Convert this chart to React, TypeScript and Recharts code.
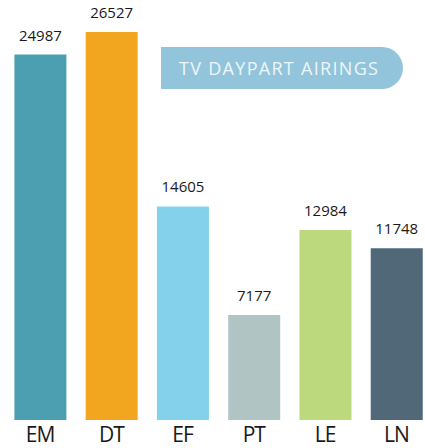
import { BarChart, Bar, XAxis, YAxis, Cell, LabelList } from "recharts";

const dayparts = ["EM", "DT", "EF", "PT", "LE", "LN"];
const airings = [24987, 26527, 14605, 7177, 12984, 11748];
const barColors = ["#4b9fb0", "#f2a51e", "#83d1eb", "#b0c4c4", "#bcd97e", "#506878"];

const data = dayparts.map((name, i) => ({ name, airings: airings[i] }));

const font = "'Open Sans', 'DejaVu Sans', sans-serif";

const App = () => {
  return (
    <div
      style={{
        position: "absolute",
        left: 0,
        top: 0,
        width: 425,
        height: 448,
        overflow: "hidden",
        background: "#fff",
        fontFamily: font,
      }}
    >
      <BarChart
        width={432}
        height={448}
        data={data}
        margin={{ top: 32, right: 0, left: 4.4, bottom: 0 }}
      >
        <XAxis
          dataKey="name"
          axisLine={false}
          tickLine={false}
          tickSize={0}
          tickMargin={7}
          height={28}
          interval={0}
          tick={{ fill: "#1a1a1a", fontSize: 21, fontFamily: font, letterSpacing: -1 }}
        />
        <YAxis hide domain={[0, 26527]} />
        <Bar dataKey="airings" barSize={52} isAnimationActive={false}>
          {data.map((d, i) => (
            <Cell key={d.name} fill={barColors[i]} />
          ))}
          <LabelList
            dataKey="airings"
            position="top"
            offset={14}
            fill="#1a1a1a"
            fontSize={15}
            fontFamily={font}
          />
        </Bar>
      </BarChart>
      <div
        style={{
          position: "absolute",
          left: 161,
          top: 47,
          width: 242,
          height: 42,
          background: "#92c5db",
          borderRadius: "0 21px 21px 0",
          color: "#eef6fa",
          fontSize: 18,
          letterSpacing: 1.3,
          lineHeight: "42px",
          paddingLeft: 18,
          boxSizing: "border-box",
          whiteSpace: "nowrap",
        }}
      >
        TV DAYPART AIRINGS
      </div>
    </div>
  );
};

export default App;
